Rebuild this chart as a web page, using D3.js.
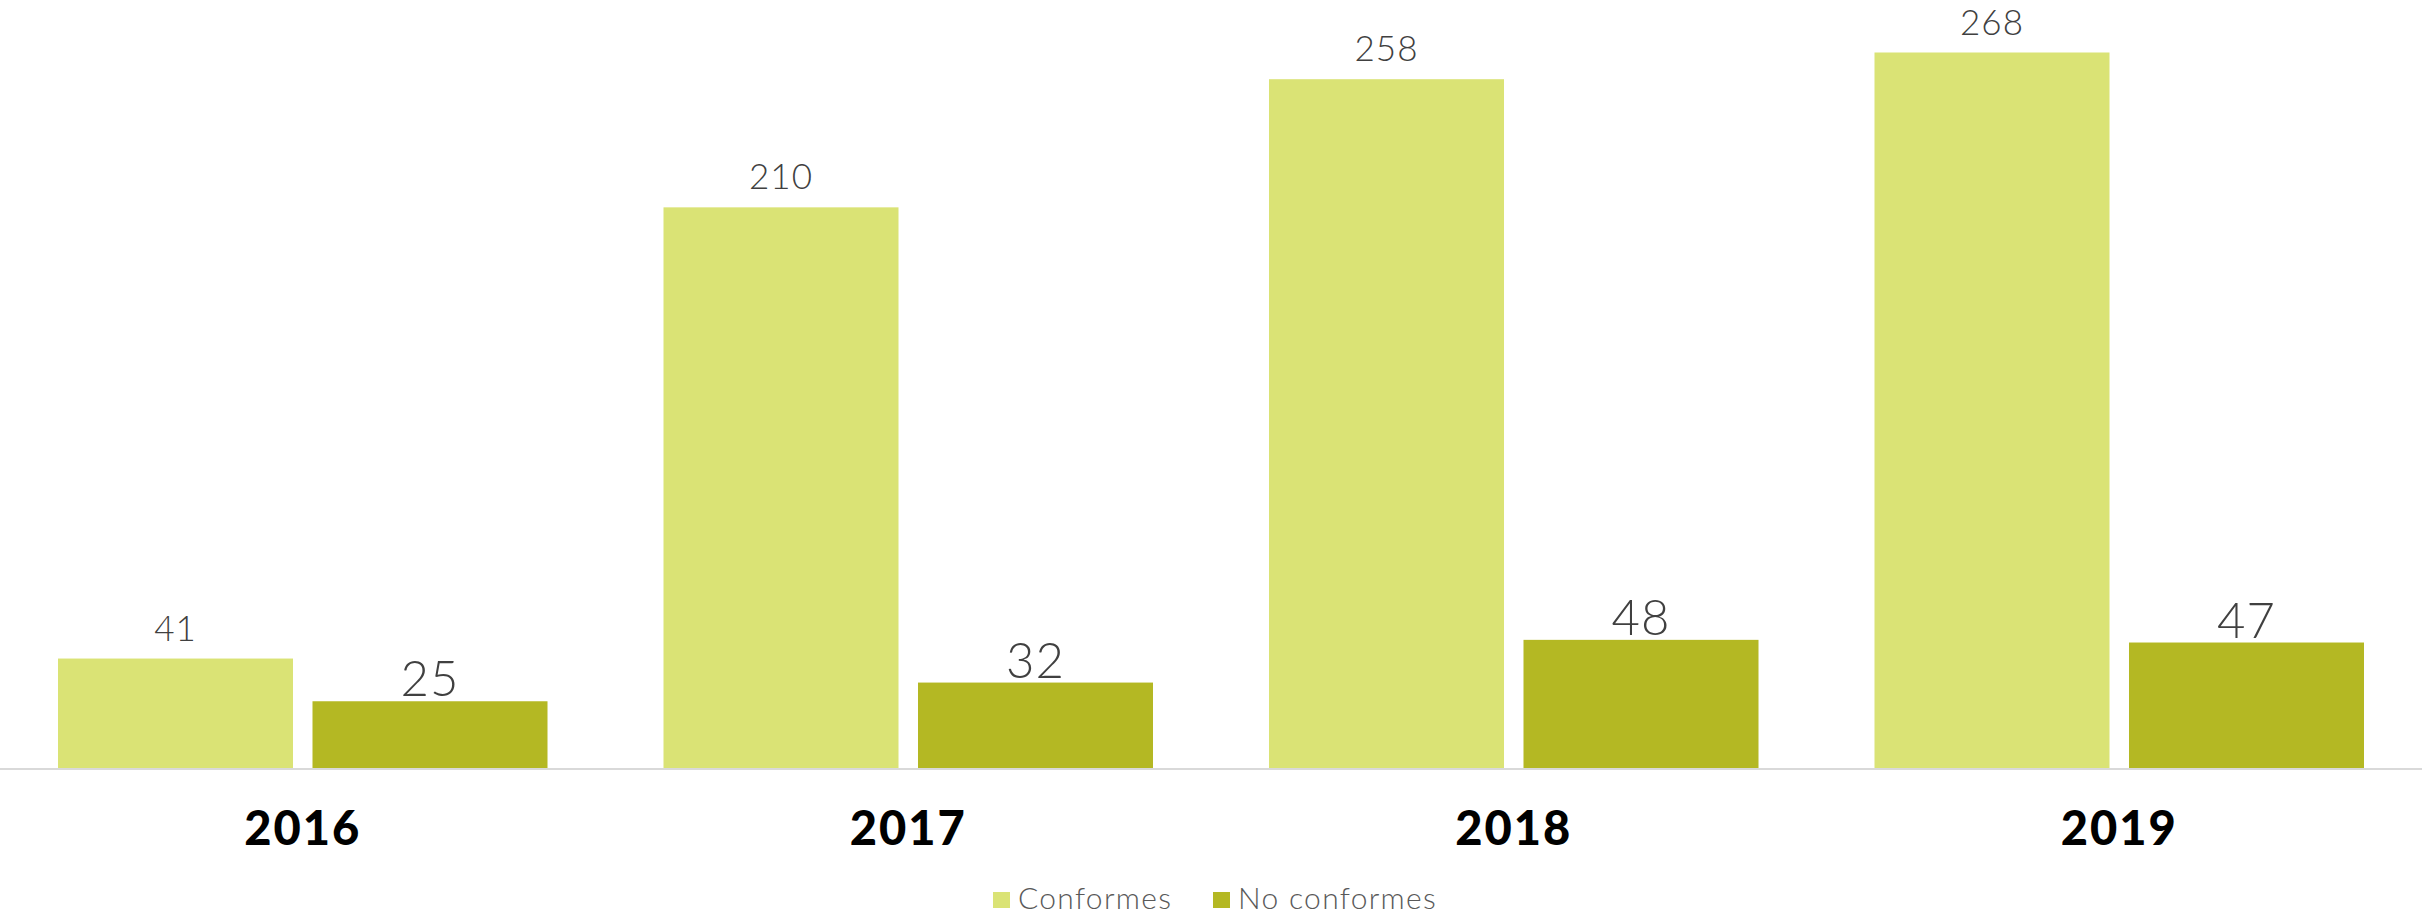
<!DOCTYPE html>
<html>
<head>
<meta charset="utf-8">
<script src="https://cdn.jsdelivr.net/npm/d3@7"></script>
<style>
  html, body { margin: 0; padding: 0; background: #ffffff; }
  svg { display: block; }
</style>
</head>
<body>
<svg id="chart" width="2422" height="916"></svg>
<script>
const years = ["2016", "2017", "2018", "2019"];
const seriesNames = ["Conformes", "No conformes"];
const conformes = [41, 210, 258, 268];
const noConformes = [25, 32, 48, 47];
const seriesColors = ["#dae375", "#b4b823"];

const W = 2422, H = 916;
const baseY = 768, topY = 52.5;

const svg = d3.select("#chart");

const x0 = d3.scaleBand().domain(years).range([0, W]).padding(0);
const groupPad = 58;
const x1 = d3.scaleBand().domain(seriesNames)
  .range([groupPad, x0.bandwidth() - groupPad])
  .paddingInner(0.0766).paddingOuter(0);
const maxVal = d3.max(conformes.concat(noConformes));
const y = d3.scaleLinear().domain([0, maxVal]).range([baseY, topY]);
const color = d3.scaleOrdinal().domain(seriesNames).range(seriesColors);

const rows = years.map((yr, i) => ({
  year: yr,
  values: [
    { key: seriesNames[0], value: conformes[i] },
    { key: seriesNames[1], value: noConformes[i] }
  ]
}));

const groups = svg.selectAll("g.grp").data(rows).join("g")
  .attr("class", "grp")
  .attr("transform", d => `translate(${x0(d.year)},0)`);

groups.selectAll("rect").data(d => d.values).join("rect")
  .attr("x", d => x1(d.key))
  .attr("width", x1.bandwidth())
  .attr("y", d => y(d.value))
  .attr("height", d => baseY - y(d.value))
  .attr("fill", d => color(d.key));

groups.selectAll("text.val").data(d => d.values).join("text")
  .attr("class", "val")
  .attr("x", d => x1(d.key) + x1.bandwidth() / 2)
  .attr("y", d => y(d.value) - (d.key === seriesNames[0] ? 18 : 5))
  .attr("text-anchor", "middle")
  .attr("font-family", "Lato, 'Open Sans', sans-serif")
  .attr("font-weight", 300)
  .attr("font-size", d => d.key === seriesNames[0] ? 35 : 49)
  .attr("letter-spacing", d => d.key === seriesNames[0] ? 1 : 1)
  .attr("fill", "#404040")
  .text(d => d.value);

// baseline axis
const xAxis = d3.axisBottom(x0).tickSize(0).tickPadding(0);
const axisG = svg.append("g").attr("transform", `translate(0,${baseY + 1})`).call(xAxis);
axisG.select(".domain").attr("stroke", "#d9d9d9").attr("stroke-width", 2)
  .attr("d", `M0,0H${W}`);
axisG.selectAll(".tick text")
  .attr("y", 76)
  .attr("dy", 0)
  .attr("font-family", "Lato, 'Open Sans', sans-serif")
  .attr("font-weight", 900)
  .attr("font-size", 47)
  .attr("letter-spacing", 2)
  .attr("fill", "#000000");

// legend
const legend = svg.append("g").attr("transform", "translate(993,0)");
const legItems = [
  { name: seriesNames[0], x: 0 },
  { name: seriesNames[1], x: 220 }
];
legItems.forEach(it => {
  legend.append("rect")
    .attr("x", it.x).attr("y", 892)
    .attr("width", 17).attr("height", 16)
    .attr("fill", color(it.name));
  legend.append("text")
    .attr("x", it.x + 25).attr("y", 909)
    .attr("font-family", "Lato, 'Open Sans', sans-serif")
    .attr("font-weight", 300)
    .attr("font-size", 30)
    .attr("letter-spacing", 1.3)
    .attr("fill", "#595959")
    .text(it.name);
});
</script>
</body>
</html>
